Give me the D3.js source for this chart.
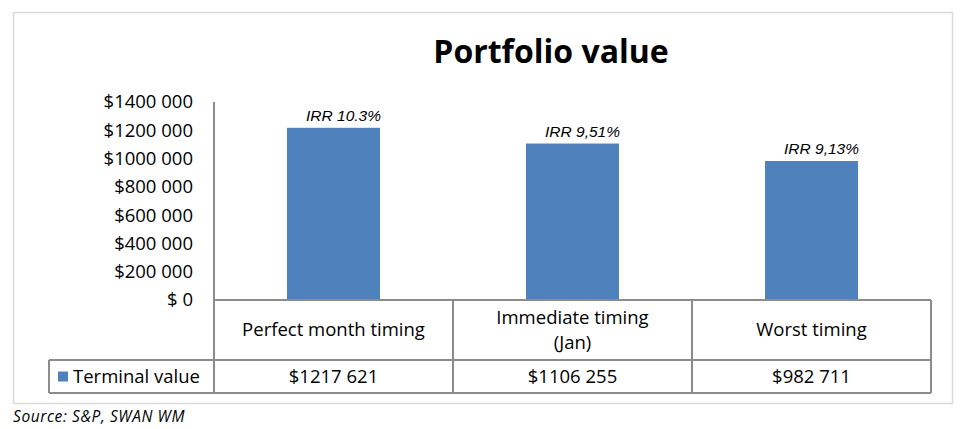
<!DOCTYPE html>
<html>
<head>
<meta charset="utf-8">
<script src="https://cdn.jsdelivr.net/npm/d3@7"></script>
<style>
  body { margin: 0; background: #fff; }
  svg text { fill: #000; }
</style>
</head>
<body>
<div id="chart"></div>
<script>
let categories = ["Perfect month timing", "Immediate timing|(Jan)", "Worst timing"];
let values = [1217621, 1106255, 982711];
let valueLabels = ["$1217 621", "$1106 255", "$982 711"];
let irrLabels = ["IRR 10.3%", "IRR 9,51%", "IRR 9,13%"];
let yTicks = [0, 200000, 400000, 600000, 800000, 1000000, 1200000, 1400000];
let seriesName = "Terminal value";

let width = 966, height = 429;
let plot = {left: 214, right: 931, top: 102, bottom: 300};
let headRow = 60, valueRow = 33, legendLeft = 49;
let barColor = "#4f81bd", lineColor = "#8c8c8c";
let mainFont = "'Open Sans', Lato, sans-serif";
let labelSize = "18.5px";

let svg = d3.select("#chart")
    .append("svg")
    .attr("width", width)
    .attr("height", height)
    .style("font-family", mainFont);

// outer chart border
svg.append("rect")
    .attr("x", 13.5).attr("y", 12.5)
    .attr("width", 939).attr("height", 391)
    .attr("fill", "none")
    .attr("stroke", "#d9d9d9")
    .attr("stroke-width", 1.5);

svg.append("text")
    .attr("x", 551).attr("y", 63)
    .attr("text-anchor", "middle")
    .style("font-size", "32px")
    .style("font-weight", "bold")
    .text("Portfolio value");

let x = d3.scaleBand()
    .domain(categories)
    .range([plot.left, plot.right])
    .paddingInner(0)
    .paddingOuter(0);

let y = d3.scaleLinear()
    .domain([0, 1400000])
    .range([plot.bottom, plot.top]);

let fmt = function (v) {
    if (v === 0) return "$ 0";
    let s = String(v);
    return "$" + s.slice(0, s.length - 3) + " " + s.slice(-3);
};

// y axis labels
svg.append("g")
    .selectAll("text")
    .data(yTicks)
    .enter()
    .append("text")
    .attr("x", 193)
    .attr("y", d => y(d))
    .attr("dy", "0.35em")
    .attr("text-anchor", "end")
    .style("font-size", labelSize)
    .text(fmt);

let barW = 93;

svg.append("g")
    .selectAll("rect")
    .data(values)
    .enter()
    .append("rect")
    .attr("x", (d, i) => x(categories[i]) + x.bandwidth() / 2 - barW / 2)
    .attr("y", d => y(d))
    .attr("width", barW)
    .attr("height", d => y(0) - y(d))
    .attr("fill", barColor);

svg.append("g")
    .selectAll("text")
    .data(values)
    .enter()
    .append("text")
    .attr("x", (d, i) => x(categories[i]) + x.bandwidth() / 2 + 10)
    .attr("y", d => y(d) - 7)
    .attr("text-anchor", "middle")
    .style("font-family", "'Liberation Sans', Arial, sans-serif")
    .style("font-size", "15.5px")
    .style("font-style", "italic")
    .text((d, i) => irrLabels[i]);

// axis + data table lines
let tableBottom = plot.bottom + headRow + valueRow;
let lines = svg.append("g")
    .attr("stroke", lineColor)
    .attr("stroke-width", 2)
    .attr("fill", "none");

lines.append("line")
    .attr("x1", plot.left).attr("x2", plot.left)
    .attr("y1", plot.top).attr("y2", tableBottom);
lines.append("line")
    .attr("x1", plot.left).attr("x2", plot.right)
    .attr("y1", plot.bottom).attr("y2", plot.bottom);
lines.append("line")
    .attr("x1", legendLeft).attr("x2", plot.right)
    .attr("y1", plot.bottom + headRow).attr("y2", plot.bottom + headRow);
lines.append("line")
    .attr("x1", legendLeft).attr("x2", plot.right)
    .attr("y1", tableBottom).attr("y2", tableBottom);
lines.append("line")
    .attr("x1", legendLeft).attr("x2", legendLeft)
    .attr("y1", plot.bottom + headRow).attr("y2", tableBottom);
categories.forEach(function (c) {
    lines.append("line")
        .attr("x1", x(c) + x.bandwidth()).attr("x2", x(c) + x.bandwidth())
        .attr("y1", plot.bottom).attr("y2", tableBottom);
});

// category labels
let lineGap = 25;
categories.forEach(function (c) {
    let parts = c.split("|");
    let cx = x(c) + x.bandwidth() / 2;
    let cy = plot.bottom + headRow / 2 - (parts.length - 1) * lineGap / 2;
    let t = svg.append("text")
        .attr("text-anchor", "middle")
        .style("font-size", labelSize);
    parts.forEach(function (p, j) {
        t.append("tspan")
            .attr("x", cx)
            .attr("y", cy + j * lineGap)
            .attr("dy", "0.35em")
            .text(p);
    });
});

// value row
let rowMid = plot.bottom + headRow + valueRow / 2;
svg.append("g")
    .selectAll("text")
    .data(valueLabels)
    .enter()
    .append("text")
    .attr("x", (d, i) => x(categories[i]) + x.bandwidth() / 2)
    .attr("y", rowMid)
    .attr("dy", "0.35em")
    .attr("text-anchor", "middle")
    .style("font-size", labelSize)
    .text(d => d);

// legend key
svg.append("rect")
    .attr("x", 58).attr("y", rowMid - 5)
    .attr("width", 10).attr("height", 10)
    .attr("fill", barColor);
svg.append("text")
    .attr("x", 73).attr("y", rowMid)
    .attr("dy", "0.35em")
    .style("font-size", labelSize)
    .text(seriesName);

svg.append("text")
    .attr("x", 13).attr("y", 422)
    .style("font-size", "15.5px")
    .style("font-style", "italic")
    .style("letter-spacing", "0.6px")
    .text("Source: S&P, SWAN WM");
</script>
</body>
</html>
